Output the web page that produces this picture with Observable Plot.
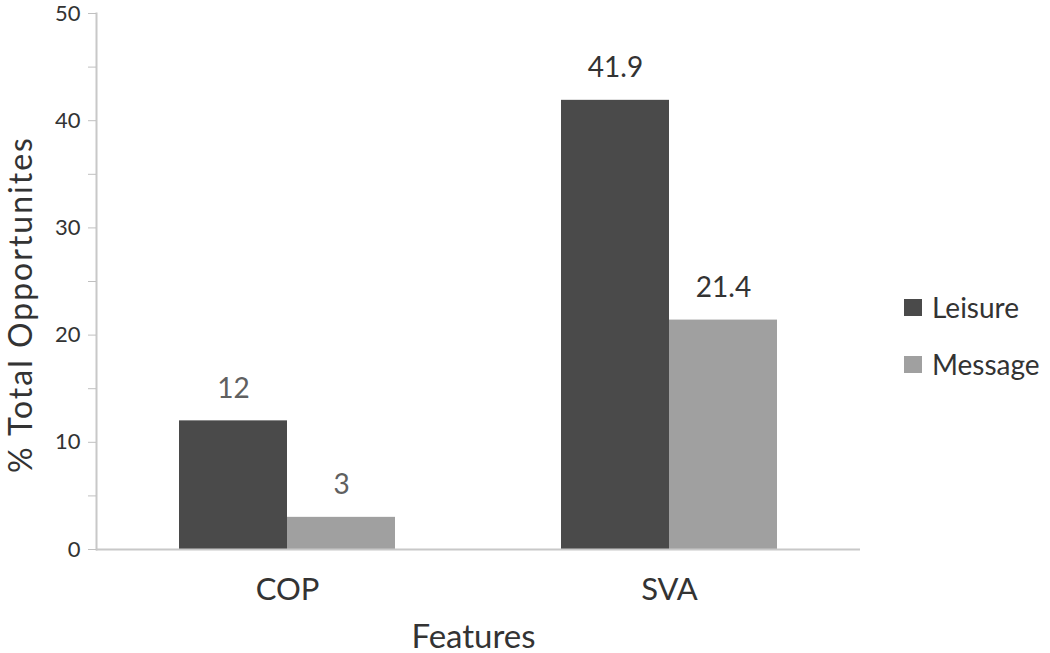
<!DOCTYPE html>
<html>
<head>
<meta charset="utf-8">
<script src="https://cdn.jsdelivr.net/npm/d3@7"></script>
<script src="https://cdn.jsdelivr.net/npm/@observablehq/plot@0.6"></script>
<style>
  body { margin: 0; background: #fff; font-family: Lato, "Open Sans", sans-serif; }
  #wrap { position: relative; width: 1050px; height: 653px; overflow: hidden; }
  #legend { position: absolute; left: 904px; top: 289px; }
  .item { display: flex; align-items: center; height: 36px; margin-bottom: 21px; font-size: 28px; color: #333; white-space: nowrap; }
  .sw { width: 18px; height: 17px; margin-right: 10px; flex: none; }
</style>
</head>
<body>
<div id="wrap"></div>
<script>
const categories = ["COP", "SVA"];
const series = ["Leisure", "Message"];
const leisureValues = [12, 41.9];
const messageValues = [3, 21.4];
const seriesColors = ["#4a4a4a", "#a0a0a0"];
const yTicks = [0, 5, 10, 15, 20, 25, 30, 35, 40, 45, 50];
const yLabel = "% Total Opportunites";
const xLabel = "Features";

const data = categories.flatMap((c, i) => [
  {category: c, series: series[0], value: leisureValues[i]},
  {category: c, series: series[1], value: messageValues[i]}
]);

const plot = Plot.plot({
  width: 1050,
  height: 653,
  marginLeft: 96,
  marginRight: 190,
  marginTop: 13,
  marginBottom: 104,
  style: {fontFamily: "Lato, 'Open Sans', sans-serif", background: "white", color: "#333"},
  fx: {domain: categories, padding: 0},
  x: {domain: series, paddingInner: 0, paddingOuter: 0.764, axis: null},
  y: {domain: [0, 50]},
  color: {domain: series, range: seriesColors},
  marks: [
    Plot.barY(data, {fx: "category", x: "series", y: "value", fill: "series"}),
    Plot.ruleY([0], {stroke: "#c8c8c8", strokeWidth: 2}),
    Plot.frame({anchor: "left", facetAnchor: "left", stroke: "#c8c8c8", strokeWidth: 2}),
    Plot.axisY({
      ticks: yTicks,
      tickFormat: d => (d % 10 === 0 ? String(d) : ""),
      tickSize: 8,
      tickPadding: 8,
      stroke: "#c0c0c0",
      fontSize: 22,
      label: yLabel,
      labelAnchor: "center",
      labelArrow: false,
      labelOffset: 87
    }),
    Plot.axisFx({
      anchor: "bottom",
      tickSize: 0,
      tickPadding: 28,
      fontSize: 31,
      label: xLabel,
      labelAnchor: "center",
      labelArrow: false,
      labelOffset: 98
    }),
    Plot.text(data, {
      fx: "category", x: "series", y: "value",
      text: d => String(d.value),
      dy: -32,
      fontSize: 28,
      fill: d => (d.category === categories[0] ? "#606060" : "#333333")
    })
  ]
});

const wrap = document.getElementById("wrap");
wrap.appendChild(plot);
plot.querySelectorAll("[aria-label='y-axis label'] text").forEach(t => {
  t.setAttribute("font-size", 32);
  t.setAttribute("letter-spacing", "2px");
  t.setAttribute("dx", -23);
});
plot.querySelectorAll("[aria-label='fx-axis label'] text").forEach(t => {
  t.setAttribute("font-size", 33);
  t.setAttribute("dx", -5);
});

const legend = document.createElement("div");
legend.id = "legend";
series.forEach((s, i) => {
  const item = document.createElement("div");
  item.className = "item";
  const sw = document.createElement("span");
  sw.className = "sw";
  sw.style.background = seriesColors[i];
  const lab = document.createElement("span");
  lab.textContent = s;
  item.appendChild(sw);
  item.appendChild(lab);
  legend.appendChild(item);
});
wrap.appendChild(legend);
</script>
</body>
</html>
